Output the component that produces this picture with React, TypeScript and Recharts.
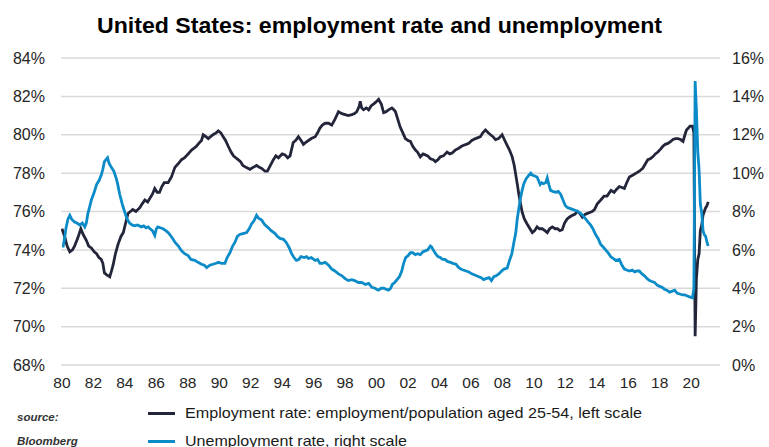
import { LineChart, Line, XAxis, YAxis, CartesianGrid } from "recharts";

// prime-age employment/population ratio, % (left scale)
const empYears = [
  1980.0, 1980.17, 1980.33, 1980.5, 1980.67, 1980.8, 1981.0, 1981.2, 1981.35, 1981.55,
  1981.7, 1981.87, 1982.05, 1982.2, 1982.35, 1982.5, 1982.6, 1982.7, 1982.85, 1983.04,
  1983.15, 1983.25, 1983.4, 1983.57, 1983.75, 1983.9, 1984.05, 1984.2, 1984.35, 1984.5,
  1984.7, 1984.95, 1985.1, 1985.27, 1985.45, 1985.6, 1985.75, 1985.9, 1986.05, 1986.2,
  1986.35, 1986.5, 1986.75, 1986.96, 1987.18, 1987.4, 1987.6, 1987.8, 1988.02, 1988.24,
  1988.4, 1988.55, 1988.75, 1988.87, 1988.98, 1989.15, 1989.3, 1989.45, 1989.6, 1989.8,
  1989.94, 1990.1, 1990.25, 1990.4, 1990.57, 1990.75, 1990.9, 1991.05, 1991.2, 1991.35,
  1991.5, 1991.7, 1991.95, 1992.15, 1992.37, 1992.55, 1992.7, 1992.9, 1993.06, 1993.25,
  1993.44, 1993.6, 1993.76, 1994.0, 1994.18, 1994.35, 1994.5, 1994.7, 1994.85, 1995.03,
  1995.2, 1995.35, 1995.5, 1995.67, 1995.85, 1996.1, 1996.25, 1996.4, 1996.55, 1996.73,
  1996.95, 1997.15, 1997.35, 1997.58, 1997.8, 1998.0, 1998.2, 1998.43, 1998.6, 1998.74,
  1998.9, 1998.96, 1999.05, 1999.17, 1999.35, 1999.5, 1999.65, 1999.8, 1999.95, 2000.13,
  2000.3, 2000.45, 2000.6, 2000.76, 2000.97, 2001.1, 2001.2, 2001.35, 2001.5, 2001.67,
  2001.83, 2002.0, 2002.15, 2002.3, 2002.47, 2002.6, 2002.78, 2002.95, 2003.1, 2003.25,
  2003.42, 2003.6, 2003.74, 2003.9, 2004.05, 2004.25, 2004.48, 2004.65, 2004.8, 2005.0,
  2005.22, 2005.4, 2005.54, 2005.7, 2005.86, 2006.05, 2006.29, 2006.45, 2006.6, 2006.75,
  2006.92, 2007.1, 2007.24, 2007.4, 2007.56, 2007.75, 2007.98, 2008.15, 2008.3, 2008.45,
  2008.62, 2008.75, 2008.83, 2008.95, 2009.04, 2009.15, 2009.26, 2009.4, 2009.57, 2009.75,
  2009.9, 2010.05, 2010.2, 2010.35, 2010.53, 2010.7, 2010.85, 2011.0, 2011.17, 2011.35,
  2011.5, 2011.65, 2011.8, 2011.95, 2012.1, 2012.25, 2012.44, 2012.6, 2012.76, 2012.92,
  2013.08, 2013.25, 2013.4, 2013.55, 2013.7, 2013.85, 2014.03, 2014.25, 2014.46, 2014.65,
  2014.9, 2015.1, 2015.25, 2015.43, 2015.6, 2015.75, 2015.9, 2016.07, 2016.3, 2016.5,
  2016.7, 2016.92, 2017.1, 2017.24, 2017.4, 2017.56, 2017.72, 2017.88, 2018.05, 2018.2,
  2018.35, 2018.52, 2018.7, 2018.84, 2019.0, 2019.16, 2019.32, 2019.48, 2019.6, 2019.7,
  2019.82, 2019.92, 2020.08, 2020.17, 2020.25, 2020.33, 2020.42, 2020.5, 2020.58, 2020.67,
  2020.75, 2020.83, 2020.92, 2021.0, 2021.08,
];
const empRate = [
  75.1, 74.7, 74.2, 73.9, 74.0, 74.2, 74.6, 75.1, 74.8, 74.5,
  74.2, 74.1, 73.9, 73.8, 73.6, 73.5, 73.3, 72.8, 72.7, 72.6,
  72.9, 73.2, 73.8, 74.3, 74.7, 74.9, 75.4, 75.9, 76.0, 76.1,
  76.0, 76.2, 76.4, 76.6, 76.5, 76.7, 76.9, 77.2, 77.0, 77.0,
  77.3, 77.5, 77.5, 77.8, 78.3, 78.5, 78.7, 78.8, 79.0, 79.2,
  79.3, 79.4, 79.6, 79.7, 80.0, 79.9, 79.8, 79.9, 80.0, 80.1,
  80.2, 80.1, 79.9, 79.7, 79.4, 79.1, 78.9, 78.8, 78.7, 78.6,
  78.4, 78.3, 78.2, 78.3, 78.4, 78.3, 78.25, 78.1, 78.1, 78.4,
  78.7, 78.9, 78.8, 79.0, 78.95, 78.8, 78.9, 79.6, 79.7, 79.9,
  79.7, 79.5, 79.6, 79.7, 79.8, 79.9, 80.1, 80.35, 80.5, 80.6,
  80.6, 80.5, 80.8, 81.2, 81.1, 81.05, 81.0, 81.05, 81.1, 81.2,
  81.5, 81.75, 81.4, 81.3, 81.4, 81.3, 81.5, 81.6, 81.7, 81.85,
  81.6, 81.15, 81.2, 81.3, 81.4, 81.3, 81.2, 80.8, 80.4, 80.1,
  79.8, 79.7, 79.65, 79.4, 79.2, 79.1, 78.85, 79.0, 78.95, 78.9,
  78.75, 78.7, 78.6, 78.7, 78.85, 78.9, 79.1, 79.0, 79.05, 79.2,
  79.3, 79.4, 79.45, 79.5, 79.55, 79.7, 79.8, 79.85, 79.9, 80.1,
  80.25, 80.1, 80.0, 79.9, 79.75, 79.8, 80.0, 79.7, 79.45, 79.2,
  78.85, 78.4, 78.0, 77.4, 76.9, 76.4, 75.95, 75.6, 75.35, 75.1,
  74.9, 75.0, 75.2, 75.1, 75.1, 75.0, 74.9, 75.1, 75.2, 75.1,
  75.1, 75.0, 75.05, 75.4, 75.6, 75.7, 75.8, 75.85, 76.0, 75.9,
  75.7, 75.85, 75.9, 75.95, 76.0, 76.1, 76.4, 76.6, 76.8, 76.8,
  77.1, 77.0, 77.15, 77.3, 77.25, 77.2, 77.5, 77.8, 77.9, 78.0,
  78.1, 78.25, 78.5, 78.7, 78.75, 78.85, 79.0, 79.1, 79.25, 79.4,
  79.5, 79.55, 79.65, 79.75, 79.8, 79.8, 79.75, 79.65, 80.0, 80.25,
  80.35, 80.45, 80.45, 80.1, 69.5, 72.5, 73.5, 73.8, 75.0, 75.3,
  75.8, 76.0, 76.2, 76.3, 76.5,
];

// unemployment rate, % (right scale)
const unYears = [
  1980.0, 1980.08, 1980.17, 1980.25, 1980.38, 1980.5, 1980.62, 1980.8, 1980.95, 1981.13,
  1981.3, 1981.45, 1981.55, 1981.65, 1981.75, 1981.87, 1982.05, 1982.2, 1982.35, 1982.5,
  1982.6, 1982.7, 1982.8, 1982.9, 1983.0, 1983.14, 1983.3, 1983.46, 1983.55, 1983.67,
  1983.83, 1984.0, 1984.15, 1984.3, 1984.45, 1984.63, 1984.8, 1985.05, 1985.2, 1985.35,
  1985.48, 1985.6, 1985.75, 1985.9, 1986.0, 1986.1, 1986.25, 1986.43, 1986.6, 1986.75,
  1986.9, 1987.07, 1987.18, 1987.4, 1987.6, 1987.8, 1988.02, 1988.2, 1988.45, 1988.65,
  1988.87, 1989.05, 1989.2, 1989.4, 1989.6, 1989.8, 1989.94, 1990.15, 1990.36, 1990.5,
  1990.68, 1990.85, 1991.0, 1991.15, 1991.3, 1991.5, 1991.74, 1991.9, 1992.05, 1992.2,
  1992.37, 1992.5, 1992.7, 1992.9, 1993.12, 1993.3, 1993.55, 1993.7, 1993.86, 1994.08,
  1994.25, 1994.45, 1994.6, 1994.75, 1994.9, 1995.05, 1995.2, 1995.4, 1995.55, 1995.67,
  1995.85, 1996.1, 1996.25, 1996.4, 1996.55, 1996.73, 1996.95, 1997.15, 1997.35, 1997.58,
  1997.8, 1998.0, 1998.2, 1998.43, 1998.6, 1998.85, 1999.05, 1999.3, 1999.5, 1999.7,
  1999.9, 2000.1, 2000.3, 2000.45, 2000.6, 2000.76, 2000.9, 2001.0, 2001.15, 2001.3,
  2001.45, 2001.6, 2001.72, 2001.85, 2002.0, 2002.15, 2002.3, 2002.47, 2002.6, 2002.78,
  2002.95, 2003.1, 2003.25, 2003.42, 2003.5, 2003.6, 2003.75, 2003.9, 2004.05, 2004.2,
  2004.35, 2004.5, 2004.7, 2004.85, 2005.05, 2005.2, 2005.35, 2005.5, 2005.7, 2005.86,
  2006.05, 2006.2, 2006.35, 2006.5, 2006.65, 2006.8, 2006.95, 2007.15, 2007.3, 2007.45,
  2007.6, 2007.77, 2007.95, 2008.1, 2008.3, 2008.45, 2008.6, 2008.73, 2008.85, 2008.94,
  2009.05, 2009.15, 2009.25, 2009.36, 2009.5, 2009.68, 2009.8, 2009.9, 2010.05, 2010.2,
  2010.3, 2010.4, 2010.5, 2010.6, 2010.75, 2010.85, 2010.95, 2011.06, 2011.2, 2011.38,
  2011.55, 2011.7, 2011.85, 2012.0, 2012.15, 2012.33, 2012.5, 2012.65, 2012.8, 2012.97,
  2013.1, 2013.3, 2013.45, 2013.6, 2013.75, 2013.92, 2014.08, 2014.24, 2014.4, 2014.56,
  2014.72, 2014.88, 2015.05, 2015.2, 2015.43, 2015.6, 2015.75, 2015.9, 2016.07, 2016.25,
  2016.4, 2016.55, 2016.7, 2016.87, 2017.03, 2017.2, 2017.35, 2017.5, 2017.67, 2017.85,
  2018.0, 2018.15, 2018.3, 2018.45, 2018.62, 2018.8, 2018.95, 2019.1, 2019.27, 2019.45,
  2019.6, 2019.75, 2019.9, 2020.08, 2020.17, 2020.25, 2020.33, 2020.42, 2020.5, 2020.58,
  2020.67, 2020.75, 2020.83, 2020.92, 2021.0, 2021.08,
];
const unRate = [
  6.2, 6.2, 6.6, 7.1, 7.6, 7.8, 7.6, 7.45, 7.4, 7.3,
  7.4, 7.2, 7.4, 7.9, 8.2, 8.6, 9.0, 9.4, 9.6, 9.9,
  10.2, 10.6, 10.7, 10.8, 10.5, 10.3, 10.1, 9.7, 9.4, 8.9,
  8.4, 7.95, 7.6, 7.4, 7.3, 7.25, 7.3, 7.2, 7.25, 7.15,
  7.2, 7.1, 7.0, 6.75, 7.1, 7.2, 7.15, 7.1, 7.0, 6.9,
  6.75, 6.55, 6.4, 6.2, 5.95, 5.8, 5.7, 5.5, 5.45, 5.35,
  5.25, 5.2, 5.07, 5.2, 5.25, 5.3, 5.35, 5.3, 5.3, 5.6,
  5.85, 6.2, 6.4, 6.7, 6.8, 6.85, 6.9, 7.1, 7.35, 7.5,
  7.8, 7.65, 7.55, 7.3, 7.15, 7.0, 6.85, 6.7, 6.6, 6.55,
  6.4, 6.1, 5.8, 5.6, 5.45, 5.5, 5.65, 5.6, 5.65, 5.55,
  5.6, 5.45, 5.5, 5.3, 5.3, 5.35, 5.2, 5.0, 4.9, 4.75,
  4.65, 4.5, 4.4, 4.45, 4.4, 4.3, 4.3, 4.2, 4.25, 4.05,
  4.0, 3.9, 4.0, 4.0, 3.95, 3.9, 4.0, 4.2, 4.3, 4.45,
  4.6, 4.9, 5.3, 5.6, 5.7, 5.85, 5.85, 5.75, 5.8, 5.75,
  5.9, 5.95, 6.0, 6.2, 6.15, 6.0, 5.8, 5.65, 5.6, 5.5,
  5.5, 5.4, 5.35, 5.3, 5.25, 5.1, 5.0, 4.95, 4.9, 4.85,
  4.75, 4.7, 4.65, 4.6, 4.55, 4.45, 4.5, 4.55, 4.4, 4.6,
  4.65, 4.75, 4.9, 5.0, 5.05, 5.45, 5.8, 6.4, 6.9, 7.6,
  8.2, 8.7, 9.1, 9.45, 9.7, 9.9, 10.0, 9.9, 9.85, 9.8,
  9.6, 9.4, 9.5, 9.45, 9.5, 9.75, 9.4, 9.1, 9.05, 9.0,
  9.05, 8.9, 8.6, 8.3, 8.2, 8.15, 8.1, 8.05, 8.0, 7.9,
  7.8, 7.6, 7.45, 7.3, 7.1, 6.8, 6.6, 6.3, 6.15, 6.0,
  5.85, 5.65, 5.55, 5.45, 5.5, 5.2, 5.0, 4.95, 4.9, 4.95,
  4.85, 4.9, 4.9, 4.75, 4.65, 4.5, 4.4, 4.35, 4.3, 4.15,
  4.1, 4.05, 3.95, 3.9, 3.8, 3.85, 3.9, 3.75, 3.7, 3.65,
  3.65, 3.6, 3.55, 3.5, 4.0, 14.8, 13.3, 11.1, 10.2, 8.4,
  7.9, 7.0, 6.8, 6.7, 6.4, 6.2,
];

const yearTicks = [
  1980, 1982, 1984, 1986, 1988, 1990, 1992, 1994, 1996, 1998, 2000,
  2002, 2004, 2006, 2008, 2010, 2012, 2014, 2016, 2018, 2020,
];
const leftTicks = [68, 70, 72, 74, 76, 78, 80, 82, 84];
const rightTicks = [0, 2, 4, 6, 8, 10, 12, 14, 16];

const empData = empYears.map((t, i) => ({ t, v: empRate[i] }));
const unData = unYears.map((t, i) => ({ t, v: unRate[i] }));

const DARK = "#23263b";
const BLUE = "#0b8bc7";
const FONT = "'Liberation Sans', Arial, sans-serif";
const tickStyle = { fontSize: 16, fill: "#262626", fontFamily: FONT };

export default function App() {
  return (
    <div style={{ position: "absolute", left: 0, top: 0, width: 769, height: 447, background: "#fff" }}>
      <LineChart width={769} height={447} margin={{ top: 58, right: 4, bottom: 52, left: 6 }}>
        <CartesianGrid vertical={false} stroke="#d9d9d9" strokeWidth={1.5} yAxisId="left" />
        <XAxis
          dataKey="t"
          type="number"
          domain={[1979.94, 2021.83]}
          ticks={yearTicks}
          tickFormatter={(y: number) => String(y % 100).padStart(2, "0")}
          axisLine={false}
          tickLine={false}
          tickSize={0}
          tickMargin={12}
          height={30}
          interval={0}
          allowDataOverflow
          tick={{ ...tickStyle, fontSize: 15.5 }}
        />
        <YAxis
          yAxisId="left"
          domain={[68, 84]}
          ticks={leftTicks}
          tickFormatter={(v: number) => `${v}%`}
          axisLine={false}
          tickLine={false}
          tickSize={0}
          tickMargin={16}
          width={55}
          interval={0}
          tick={tickStyle}
        />
        <YAxis
          yAxisId="right"
          orientation="right"
          domain={[0, 16]}
          ticks={rightTicks}
          tickFormatter={(v: number) => `${v}%`}
          axisLine={false}
          tickLine={false}
          tickSize={0}
          tickMargin={12}
          width={45}
          interval={0}
          tick={{ ...tickStyle, textAnchor: "start" }}
        />
        <Line
          yAxisId="left"
          data={empData}
          dataKey="v"
          stroke={DARK}
          strokeWidth={2.8}
          dot={false}
          isAnimationActive={false}
        />
        <Line
          yAxisId="right"
          data={unData}
          dataKey="v"
          stroke={BLUE}
          strokeWidth={2.8}
          dot={false}
          isAnimationActive={false}
        />
      </LineChart>
      <svg
        width={769}
        height={447}
        style={{ position: "absolute", left: 0, top: 0, pointerEvents: "none" }}
      >
        <text
          x={97}
          y={33}
          fontFamily={FONT}
          fontWeight="bold"
          fontSize={22.5}
          fill="#000"
          textLength={565}
          lengthAdjust="spacingAndGlyphs"
        >
          United States: employment rate and unemployment
        </text>
        <text x={17} y={420.5} fontFamily={FONT} fontWeight="bold" fontStyle="italic" fontSize={11.5} fill="#333">
          source:
        </text>
        <text x={17} y={444.5} fontFamily={FONT} fontWeight="bold" fontStyle="italic" fontSize={11.5} fill="#333">
          Bloomberg
        </text>
        <line x1={148} x2={175} y1={413.5} y2={413.5} stroke={DARK} strokeWidth={3} />
        <line x1={148} x2={175} y1={441.5} y2={441.5} stroke={BLUE} strokeWidth={3} />
        <text
          x={185}
          y={417.5}
          fontFamily={FONT}
          fontSize={14.5}
          fill="#1a1a1a"
          textLength={457}
          lengthAdjust="spacingAndGlyphs"
        >
          Employment rate: employment/population aged 25-54, left scale
        </text>
        <text
          x={185}
          y={445.5}
          fontFamily={FONT}
          fontSize={14.5}
          fill="#1a1a1a"
          textLength={222}
          lengthAdjust="spacingAndGlyphs"
        >
          Unemployment rate, right scale
        </text>
      </svg>
    </div>
  );
}
